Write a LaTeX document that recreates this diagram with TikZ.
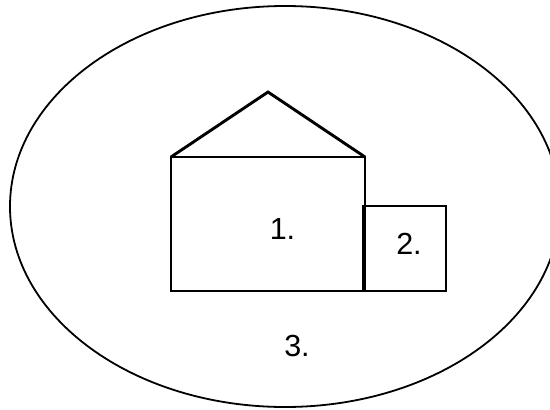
\documentclass[tikz,border=0pt]{standalone}
\usepackage{fontspec}
\setmainfont{Liberation Sans}
\begin{document}
\begin{tikzpicture}[x=1pt,y=-1pt,
  house/.style={line width=2.9pt,line join=miter},
  outer/.style={line width=1.8pt},
  lbl/.style={inner sep=0pt,font=\fontsize{30.5}{30.5}\selectfont}]
\useasboundingbox (0,0) rectangle (550,410);
\clip (0,0) rectangle (550,410);
\coordinate (c) at (285,206.5);
\draw[outer] (c) ellipse [x radius=275, y radius=200.5];
\coordinate (m1) at (171,157);
\coordinate (m2) at (365,291);
\coordinate (apex) at (268,92);
\coordinate (s1) at (363,206);
\coordinate (s2) at (446,291);
\draw[house] (m1) rectangle (m2);
\draw[house] (m1) -- (apex) -- (m2 |- m1);
\draw[house] (s1) rectangle (s2);
\node[lbl] (l1) at (282.5,229) {1.};
\node[lbl] (l2) at (409,244) {2.};
\node[lbl] (l3) at (297,346) {3.};
\end{tikzpicture}
\end{document}
